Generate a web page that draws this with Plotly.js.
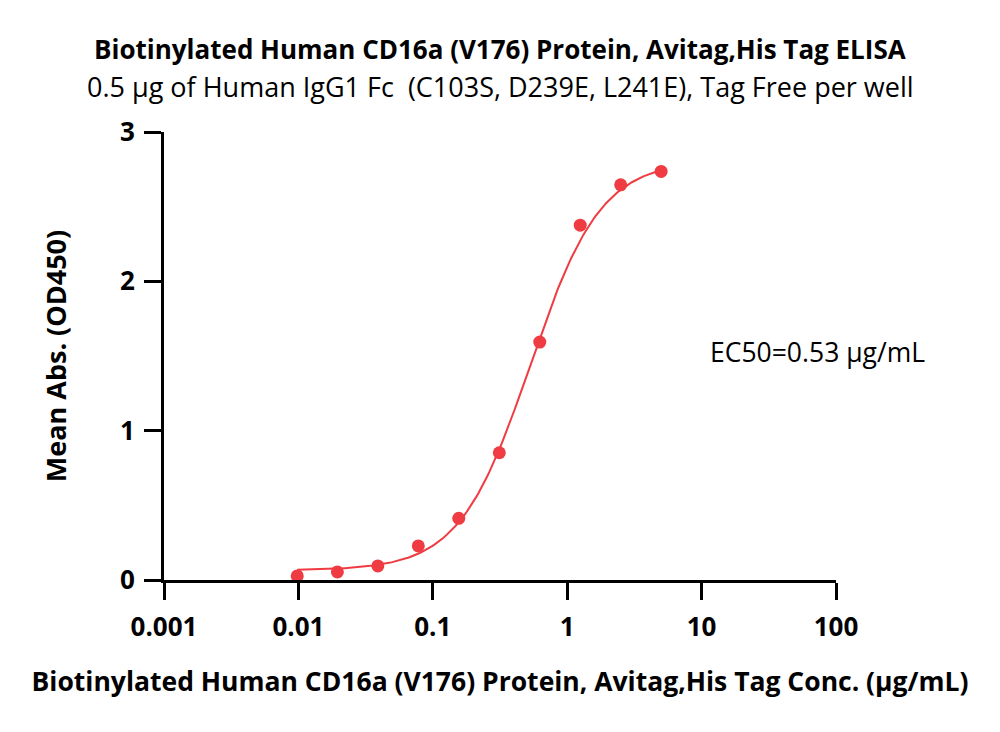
<!DOCTYPE html>
<html>
<head>
<meta charset="utf-8">
<script src="https://cdn.plot.ly/plotly-3.0.1.min.js"></script>
<style>
  html, body { margin: 0; padding: 0; background: #fff; }
  #chart { width: 1000px; height: 732px; }
</style>
</head>
<body>
<div id="chart"></div>
<script>
// Concentrations (µg/mL) and mean absorbance at 450 nm
const concentration = [0.0098, 0.0195, 0.039, 0.078, 0.156, 0.3125, 0.625, 1.25, 2.5, 5];
const meanAbs = [0.027, 0.054, 0.094, 0.228, 0.413, 0.852, 1.593, 2.376, 2.646, 2.736];

// Four-parameter logistic fit
const fitBottom = 0.065;
const fitTop = 2.81;
const ec50 = 0.53;
const hillSlope = 1.65;

const xTickVals = [0.001, 0.01, 0.1, 1, 10, 100];
const xTickText = ['0.001', '0.01', '0.1', '1', '10', '100'];
const yTickVals = [0, 1, 2, 3];

const red = '#EF3B42';
const font = '"Open Sans", sans-serif';

// Fitted curve sampled across the measured concentration span
const nCurve = 200;
const lo = Math.log10(concentration[0]);
const hi = Math.log10(concentration[concentration.length - 1]);
const curveX = [], curveY = [];
for (let i = 0; i < nCurve; i++) {
  const x = Math.pow(10, lo + (hi - lo) * i / (nCurve - 1));
  curveX.push(x);
  curveY.push(fitBottom + (fitTop - fitBottom) / (1 + Math.pow(ec50 / x, hillSlope)));
}

const traces = [
  {
    x: curveX, y: curveY, mode: 'lines', type: 'scatter',
    line: { color: red, width: 2 }, hoverinfo: 'skip', showlegend: false
  },
  {
    x: concentration, y: meanAbs, mode: 'markers', type: 'scatter',
    marker: { color: red, size: 13 }, showlegend: false
  }
];

const layout = {
  width: 1000, height: 732,
  paper_bgcolor: '#fff', plot_bgcolor: '#fff',
  margin: { l: 164, r: 164, t: 132, b: 152 },
  font: { family: font, color: '#000' },
  showlegend: false,
  xaxis: {
    type: 'log', range: [-3, 2],
    tickvals: xTickVals, ticktext: xTickText,
    ticks: 'outside', ticklen: 17, tickwidth: 3, tickcolor: '#000',
    showline: true, linewidth: 3, linecolor: '#000',
    showgrid: false, zeroline: false,
    tickfont: { family: font, size: 26, color: '#000', weight: 'bold' },
    ticklabelstandoff: 5,
    title: {
      text: 'Biotinylated Human CD16a (V176) Protein, Avitag,His Tag Conc. (µg/mL)',
      font: { family: font, size: 26.5, color: '#000', weight: 'bold' },
      standoff: 30
    }
  },
  yaxis: {
    range: [0, 3],
    tickvals: yTickVals,
    ticks: 'outside', ticklen: 17, tickwidth: 3, tickcolor: '#000',
    showline: true, linewidth: 3, linecolor: '#000',
    showgrid: false, zeroline: false,
    tickfont: { family: font, size: 26, color: '#000', weight: 'bold' },
    ticklabelstandoff: 4,
    title: {
      text: 'Mean Abs. (OD450)',
      font: { family: font, size: 27, color: '#000', weight: 'bold' },
      standoff: 46
    }
  },
  annotations: [
    {
      text: '<b>Biotinylated Human CD16a (V176) Protein, Avitag,His Tag ELISA</b>',
      xref: 'paper', yref: 'paper', x: 0.5, y: 0, xanchor: 'center', yanchor: 'middle',
      showarrow: false,
      font: { family: font, size: 26, color: '#000' }
    },
    {
      text: '0.5 µg of Human IgG1 Fc  (C103S, D239E, L241E), Tag Free per well',
      xref: 'paper', yref: 'paper', x: 0.5, y: 0, xanchor: 'center', yanchor: 'middle',
      showarrow: false,
      font: { family: font, size: 27, color: '#000' }
    },
    {
      text: 'EC50=0.53 µg/mL',
      xref: 'paper', yref: 'paper', x: 0, y: 0, xanchor: 'left', yanchor: 'middle',
      showarrow: false,
      font: { family: font, size: 26.5, color: '#000' }
    }
  ]
};

// Place the heading lines and the EC50 note in pixel terms relative to the plot area
const plotH = 732 - 132 - 152;
const plotW = 1000 - 164 - 164;
function py(pixelY) { return (732 - 152 - pixelY) / plotH; }
function px(pixelX) { return (pixelX - 164) / plotW; }
layout.annotations[0].y = py(49);
layout.annotations[1].y = py(87);
layout.annotations[2].x = px(708);
layout.annotations[2].y = py(352);

Plotly.newPlot('chart', traces, layout, { displayModeBar: false, staticPlot: true });
</script>
</body>
</html>
